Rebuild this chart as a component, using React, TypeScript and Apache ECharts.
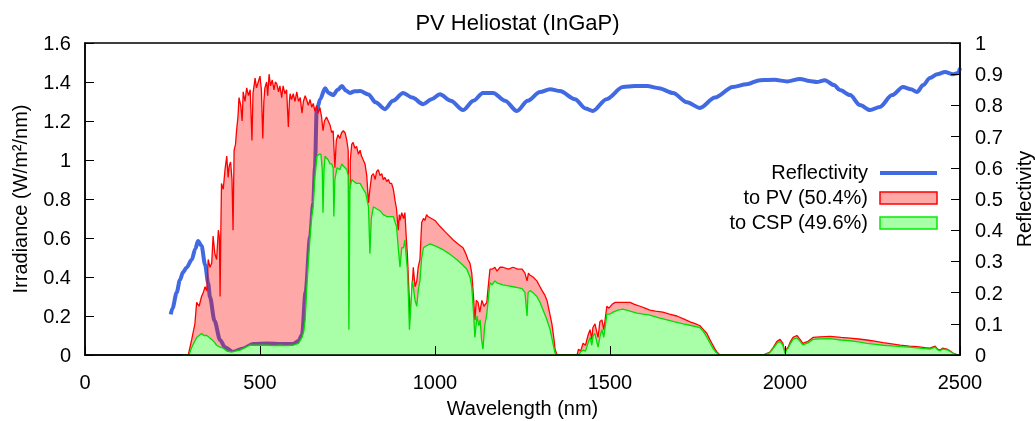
import React, { useEffect, useRef } from "react";
import * as echarts from "echarts";

const titleText = "PV Heliostat (InGaP)";
const xTicks = { min: 0, max: 2500, interval: 500 };
const yLeftTicks = { min: 0, max: 1.6, interval: 0.2 };
const yRightTicks = { min: 0, max: 1, interval: 0.1 };

// Reflectivity curve (right axis)
const reflWl = [245, 250, 262, 271, 280, 290, 305, 315, 323, 333, 343, 352, 357, 370, 386, 400, 423, 450, 480, 520, 560, 594, 610, 620, 630, 643, 652, 657, 662, 672, 686, 696, 709, 722, 734, 745, 757, 770, 786, 810, 830, 857, 880, 909, 935, 966, 990, 1014, 1045, 1080, 1110, 1137, 1166, 1200, 1234, 1265, 1300, 1329, 1357, 1400, 1430, 1451, 1490, 1537, 1570, 1606, 1640, 1680, 1720, 1757, 1800, 1851, 1890, 1929, 1970, 2006, 2043, 2070, 2091, 2114, 2140, 2157, 2186, 2214, 2243, 2271, 2306, 2337, 2360, 2377, 2395, 2414, 2435, 2457, 2480, 2495, 2500];
const reflVal = [0.13, 0.15, 0.2, 0.24, 0.265, 0.28, 0.305, 0.34, 0.365, 0.35, 0.29, 0.23, 0.186, 0.11, 0.048, 0.025, 0.01, 0.02, 0.035, 0.037, 0.035, 0.035, 0.045, 0.064, 0.2, 0.378, 0.487, 0.6, 0.785, 0.82, 0.855, 0.84, 0.833, 0.85, 0.862, 0.848, 0.84, 0.845, 0.846, 0.835, 0.81, 0.788, 0.815, 0.84, 0.825, 0.804, 0.82, 0.836, 0.815, 0.785, 0.815, 0.84, 0.84, 0.815, 0.782, 0.815, 0.843, 0.852, 0.846, 0.82, 0.79, 0.782, 0.82, 0.859, 0.862, 0.862, 0.855, 0.84, 0.81, 0.792, 0.825, 0.859, 0.868, 0.881, 0.882, 0.877, 0.885, 0.878, 0.875, 0.881, 0.865, 0.849, 0.833, 0.801, 0.785, 0.795, 0.833, 0.859, 0.852, 0.843, 0.865, 0.888, 0.9, 0.907, 0.9, 0.904, 0.92];

// Total irradiance (top of red area, "to PV")
const pvWl = [280, 295, 305, 314, 319, 326, 333, 338, 343, 348, 352, 357, 362, 366, 371, 376, 381, 384, 386, 388, 390, 395, 400, 405, 409, 412, 416, 420, 423, 426, 430, 433, 437, 440, 445, 449, 452, 457, 462, 467, 472, 477, 480, 486, 490, 495, 500, 504, 508, 511, 514, 519, 522, 526, 530, 535, 540, 544, 548, 553, 557, 562, 566, 571, 576, 581, 584, 586, 590, 595, 600, 605, 610, 615, 620, 624, 629, 633, 638, 643, 648, 652, 657, 662, 666, 671, 676, 680, 684, 690, 695, 700, 705, 709, 714, 718, 723, 728, 733, 738, 743, 748, 752, 755, 758, 762, 766, 771, 776, 781, 786, 790, 795, 800, 805, 810, 814, 819, 824, 829, 833, 838, 843, 848, 852, 857, 862, 867, 871, 876, 881, 886, 890, 895, 898, 900, 905, 910, 914, 918, 921, 925, 929, 933, 938, 943, 948, 952, 957, 962, 967, 971, 976, 980, 990, 1000, 1014, 1030, 1052, 1065, 1080, 1088, 1094, 1100, 1105, 1110, 1114, 1118, 1123, 1128, 1134, 1140, 1148, 1151, 1157, 1163, 1171, 1177, 1186, 1194, 1210, 1223, 1236, 1249, 1257, 1263, 1267, 1271, 1280, 1291, 1300, 1306, 1313, 1320, 1327, 1334, 1340, 1343, 1349, 1406, 1410, 1416, 1423, 1430, 1437, 1443, 1448, 1451, 1457, 1462, 1466, 1471, 1477, 1482, 1486, 1491, 1497, 1506, 1515, 1523, 1540, 1557, 1570, 1586, 1600, 1614, 1630, 1651, 1670, 1691, 1710, 1729, 1745, 1757, 1767, 1777, 1785, 1791, 1800, 1806, 1814, 1937, 1957, 1967, 1977, 1986, 1994, 2000, 2004, 2009, 2016, 2023, 2034, 2043, 2051, 2058, 2066, 2080, 2100, 2129, 2160, 2186, 2210, 2234, 2260, 2280, 2305, 2329, 2355, 2377, 2400, 2414, 2429, 2436, 2443, 2450, 2463, 2472, 2480, 2494, 2500];
const pvIrr = [0, 0, 0.08, 0.16, 0.27, 0.25, 0.3, 0.32, 0.35, 0.33, 0.49, 0.45, 0.47, 0.61, 0.52, 0.49, 0.64, 0.6, 0.3, 0.62, 0.88, 0.85, 0.95, 1.02, 0.91, 0.97, 0.99, 0.9, 0.64, 1.05, 1.08, 1.15, 1.22, 1.32, 1.28, 1.2, 1.35, 1.3, 1.37, 1.33, 1.36, 1.1, 1.34, 1.42, 1.37, 1.4, 1.43, 1.36, 1.11, 1.3, 1.37, 1.4, 1.33, 1.44, 1.38, 1.41, 1.36, 1.4, 1.39, 1.35, 1.38, 1.32, 1.38, 1.34, 1.36, 1.17, 1.3, 1.34, 1.31, 1.34, 1.3, 1.35, 1.3, 1.32, 1.24, 1.3, 1.33, 1.31, 1.28, 1.31, 1.27, 1.29, 1.25, 1.28, 1.24, 1.27, 1.22, 1.15, 1.2, 1.22, 1.2, 1.18, 1.14, 1.15, 0.96, 1.1, 1.13, 1.11, 1.14, 1.15, 1.14, 1.1, 1.05, 0.16, 1.0, 1.08, 1.09, 1.06, 1.07, 1.03, 1.05, 1.02, 1.0, 0.98, 0.92, 0.78, 0.85, 0.92, 0.93, 0.9, 0.94, 0.95, 0.92, 0.93, 0.9, 0.91, 0.89, 0.9, 0.88, 0.88, 0.85, 0.79, 0.75, 0.64, 0.72, 0.69, 0.73, 0.7, 0.73, 0.6, 0.52, 0.35, 0.18, 0.3, 0.45, 0.35, 0.38, 0.45, 0.49, 0.68, 0.7, 0.69, 0.72, 0.71, 0.7, 0.69, 0.66, 0.63, 0.59, 0.57, 0.55, 0.52, 0.49, 0.47, 0.42, 0.3, 0.18, 0.28, 0.27, 0.22, 0.28, 0.25, 0.27, 0.33, 0.44, 0.44, 0.45, 0.43, 0.45, 0.45, 0.44, 0.45, 0.44, 0.44, 0.42, 0.38, 0.42, 0.41, 0.4, 0.38, 0.35, 0.33, 0.31, 0.28, 0.22, 0.16, 0.08, 0.03, 0, 0, 0.03, 0.02, 0.06, 0.05, 0.1, 0.13, 0.08, 0.14, 0.16, 0.12, 0.09, 0.17, 0.18, 0.13, 0.18, 0.25, 0.24, 0.26, 0.27, 0.27, 0.27, 0.27, 0.26, 0.25, 0.24, 0.23, 0.225, 0.22, 0.21, 0.2, 0.185, 0.17, 0.16, 0.15, 0.13, 0.11, 0.08, 0.06, 0.03, 0.015, 0, 0, 0.015, 0.04, 0.07, 0.08, 0.06, 0.01, 0.03, 0.04, 0.07, 0.09, 0.1, 0.08, 0.06, 0.065, 0.07, 0.09, 0.093, 0.095, 0.09, 0.087, 0.082, 0.077, 0.07, 0.063, 0.057, 0.051, 0.046, 0.043, 0.038, 0.035, 0.045, 0.03, 0.025, 0.035, 0.03, 0.02, 0.01, 0, 0];

// Reflected irradiance (green area, "to CSP")
const cspWl = [280, 297, 305, 319, 326, 333, 340, 348, 355, 362, 370, 376, 386, 395, 405, 419, 430, 443, 455, 471, 490, 519, 540, 557, 575, 595, 610, 620, 625, 629, 633, 638, 643, 648, 652, 657, 663, 669, 674, 678, 680, 683, 686, 690, 695, 700, 705, 709, 711, 714, 720, 728, 734, 737, 743, 748, 752, 754, 757, 762, 768, 776, 786, 795, 802, 810, 814, 818, 824, 833, 843, 852, 862, 872, 881, 886, 890, 895, 900, 905, 910, 914, 918, 921, 924, 927, 931, 935, 938, 943, 948, 952, 957, 962, 967, 976, 986, 1000, 1023, 1040, 1062, 1080, 1091, 1100, 1105, 1110, 1114, 1120, 1125, 1129, 1133, 1137, 1142, 1148, 1152, 1157, 1163, 1171, 1177, 1194, 1210, 1223, 1236, 1249, 1257, 1263, 1266, 1271, 1280, 1291, 1300, 1309, 1318, 1329, 1337, 1343, 1349, 1410, 1416, 1423, 1430, 1437, 1443, 1448, 1452, 1457, 1462, 1466, 1472, 1477, 1482, 1486, 1491, 1500, 1509, 1523, 1537, 1557, 1577, 1595, 1614, 1640, 1663, 1685, 1709, 1735, 1757, 1767, 1777, 1786, 1794, 1802, 1809, 1814, 1940, 1957, 1967, 1977, 1986, 1994, 2000, 2004, 2009, 2016, 2023, 2034, 2043, 2051, 2058, 2066, 2080, 2100, 2129, 2160, 2186, 2210, 2234, 2260, 2280, 2305, 2329, 2355, 2377, 2400, 2414, 2429, 2436, 2443, 2450, 2463, 2472, 2480, 2494, 2500];
const cspIrr = [0, 0, 0.04, 0.09, 0.1, 0.11, 0.1, 0.1, 0.09, 0.08, 0.065, 0.05, 0.04, 0.035, 0.02, 0.015, 0.02, 0.025, 0.035, 0.05, 0.05, 0.05, 0.048, 0.05, 0.048, 0.05, 0.06, 0.09, 0.12, 0.18, 0.32, 0.47, 0.6, 0.71, 0.76, 0.91, 1.02, 1.03, 1.03, 0.95, 0.73, 0.95, 1.02, 1.01, 1.0, 0.98, 0.98, 0.96, 0.71, 0.9, 0.96, 0.95, 0.98, 0.97, 0.96, 0.95, 0.92, 0.13, 0.85, 0.9, 0.89, 0.88, 0.88, 0.85, 0.83, 0.76, 0.52, 0.7, 0.76, 0.75, 0.74, 0.72, 0.71, 0.71, 0.71, 0.68, 0.66, 0.55, 0.45, 0.55, 0.55, 0.59, 0.5, 0.44, 0.3, 0.13, 0.25, 0.38, 0.35, 0.28, 0.25, 0.33, 0.38, 0.5, 0.55, 0.56, 0.57, 0.56, 0.54, 0.52, 0.49, 0.46, 0.44, 0.4, 0.35, 0.22, 0.09, 0.2, 0.15, 0.18, 0.08, 0.03, 0.15, 0.21, 0.28, 0.37, 0.36, 0.38, 0.37, 0.36, 0.355, 0.35, 0.345, 0.34, 0.32, 0.2, 0.32, 0.33, 0.32, 0.3, 0.27, 0.23, 0.19, 0.13, 0.06, 0.01, 0, 0, 0.015, 0.025, 0.02, 0.06, 0.09, 0.05, 0.1, 0.11, 0.07, 0.04, 0.1, 0.13, 0.09, 0.14, 0.21, 0.21, 0.22, 0.23, 0.235, 0.225, 0.215, 0.21, 0.205, 0.19, 0.18, 0.17, 0.16, 0.15, 0.14, 0.12, 0.09, 0.06, 0.035, 0.015, 0.005, 0, 0, 0.012, 0.035, 0.06, 0.07, 0.05, 0.008, 0.025, 0.035, 0.06, 0.08, 0.088, 0.07, 0.052, 0.057, 0.062, 0.08, 0.083, 0.084, 0.077, 0.073, 0.067, 0.06, 0.055, 0.05, 0.047, 0.043, 0.04, 0.037, 0.033, 0.03, 0.04, 0.026, 0.022, 0.03, 0.027, 0.018, 0.009, 0, 0];

const legendLabels = ["Reflectivity", "to PV (50.4%)", "to CSP (49.6%)"];

const FONT = "'Liberation Sans', Arial, Helvetica, sans-serif";
const FS = 20;

export default function App() {
  const ref = useRef<HTMLDivElement>(null);
  useEffect(() => {
    if (!ref.current) return;
    const chart = echarts.init(ref.current, undefined, { renderer: "svg" });
    const pair = (xs: number[], ys: number[]) => xs.map((x, i) => [x, ys[i]]);
    const legendX = 868;
    const rows = [173, 198, 223];
    const tickStyle = { show: true, inside: true, length: 9, lineStyle: { color: "#000", width: 1 } };
    const lineStyleAxis = { show: true, lineStyle: { color: "#000", width: 1.5 } };
    const labelStyle = { fontFamily: FONT, fontSize: FS, color: "#000" };
    chart.setOption({
      animation: false,
      textStyle: { fontFamily: FONT, color: "#000" },
      title: {
        text: titleText,
        left: "center",
        top: 6,
        textStyle: { fontFamily: FONT, fontSize: 22, fontWeight: "normal", color: "#000" },
      },
      grid: {
        left: 85,
        right: 75,
        top: 43,
        bottom: 66,
        containLabel: false,
        outerBoundsMode: "none",
        show: true,
        borderColor: "#000",
        borderWidth: 1.5,
        backgroundColor: "transparent",
      },
      xAxis: {
        type: "value",
        min: xTicks.min,
        max: xTicks.max,
        interval: xTicks.interval,
        name: "Wavelength (nm)",
        nameLocation: "middle",
        nameGap: 43,
        nameTextStyle: labelStyle,
        axisLine: lineStyleAxis,
        axisTick: tickStyle,
        axisLabel: { ...labelStyle, margin: 17, formatter: (v: number) => String(v) },
        splitLine: { show: false },
        z: 10,
      },
      yAxis: [
        {
          type: "value",
          position: "left",
          min: yLeftTicks.min,
          max: yLeftTicks.max,
          interval: yLeftTicks.interval,
          name: "Irradiance (W/m²/nm)",
          nameLocation: "middle",
          nameRotate: 90,
          nameGap: 55,
          nameTextStyle: labelStyle,
          axisLine: lineStyleAxis,
          axisTick: tickStyle,
          axisLabel: { ...labelStyle, margin: 14 },
          splitLine: { show: false },
          z: 10,
        },
        {
          type: "value",
          position: "right",
          min: yRightTicks.min,
          max: yRightTicks.max,
          interval: yRightTicks.interval,
          name: "Reflectivity",
          nameLocation: "middle",
          nameRotate: 90,
          nameGap: 46,
          nameTextStyle: labelStyle,
          axisLine: lineStyleAxis,
          axisTick: tickStyle,
          axisLabel: { ...labelStyle, margin: 15 },
          splitLine: { show: false },
          z: 10,
        },
      ],
      series: [
        {
          type: "line",
          name: legendLabels[0],
          yAxisIndex: 1,
          data: pair(reflWl, reflVal),
          showSymbol: false,
          smooth: 0.3,
          smoothMonotone: "x",
          lineStyle: { color: "#4169e1", width: 4 },
          silent: true,
          z: 1,
        },
        {
          type: "line",
          name: legendLabels[1],
          yAxisIndex: 0,
          data: pair(pvWl, pvIrr),
          showSymbol: false,
          lineStyle: { color: "#ff0000", width: 1.3 },
          areaStyle: { color: "#ff0000", opacity: 0.34 },
          silent: true,
          z: 2,
        },
        {
          type: "line",
          name: legendLabels[2],
          yAxisIndex: 0,
          data: pair(cspWl, cspIrr),
          showSymbol: false,
          lineStyle: { color: "#00dd00", width: 1.3 },
          areaStyle: { color: "#a8ffa8", opacity: 1 },
          silent: true,
          z: 3,
        },
      ],
      graphic: [
        { type: "text", right: 1035 - legendX, top: rows[0] - 11, style: { text: legendLabels[0], font: `${FS}px ${FONT}`, fill: "#000", textAlign: "right" } },
        { type: "line", shape: { x1: 880, y1: rows[0], x2: 937, y2: rows[0] }, style: { stroke: "#4169e1", lineWidth: 4 } },
        { type: "text", right: 1035 - legendX, top: rows[1] - 11, style: { text: legendLabels[1], font: `${FS}px ${FONT}`, fill: "#000", textAlign: "right" } },
        { type: "rect", shape: { x: 880, y: rows[1] - 6, width: 57, height: 12 }, style: { fill: "#ffa8a8", stroke: "#ff0000", lineWidth: 1.5 } },
        { type: "text", right: 1035 - legendX, top: rows[2] - 11, style: { text: legendLabels[2], font: `${FS}px ${FONT}`, fill: "#000", textAlign: "right" } },
        { type: "rect", shape: { x: 880, y: rows[2] - 6, width: 57, height: 12 }, style: { fill: "#a8ffa8", stroke: "#00ee00", lineWidth: 1.5 } },
      ],
    });
    return () => chart.dispose();
  }, []);
  return <div ref={ref} style={{ position: "fixed", left: 0, top: 0, width: 1035, height: 421 }} />;
}
